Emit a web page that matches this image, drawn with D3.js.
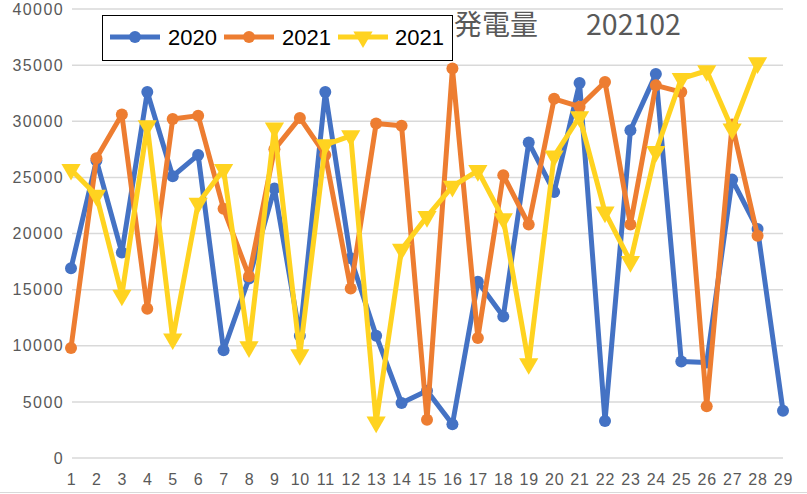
<!DOCTYPE html>
<html>
<head>
<meta charset="utf-8">
<script src="https://cdn.jsdelivr.net/npm/d3@7"></script>
<style>
  html, body { margin: 0; padding: 0; background: #fff; }
  svg { display: block; }
</style>
</head>
<body>
<svg id="chart" width="807" height="494"></svg>
<script>
const days = d3.range(1, 30);
const yTicks = [0, 5000, 10000, 15000, 20000, 25000, 30000, 35000, 40000];
const series2020 = [16900, 26500, 18300, 32600, 25100, 27000, 9600, 16000, 24000, 10900,
  32600, 17800, 10900, 4900, 6000, 3000, 15700, 12600, 28100, 23700,
  33400, 3300, 29200, 34200, 8600, 8500, 24800, 20400, 4200];
const series2021 = [9800, 26700, 30600, 13300, 30200, 30500, 22200, 16200, 27500, 30300,
  27000, 15100, 29800, 29600, 3400, 34700, 10700, 25200, 20800, 32000,
  31300, 33500, 20800, 33200, 32600, 4600, 29700, 19800];
const series2021b = [25700, 23400, 14500, 29600, 10600, 22700, 25700, 9900, 29400, 9200,
  27900, 28700, 3200, 18600, 21500, 24200, 25600, 21300, 8400, 26900,
  30400, 21900, 17500, 27300, 33800, 34500, 29300, 35200];
const seriesNames = ["2020", "2021", "2021"];
const colors = ["#4472C4", "#ED7D31", "#FFD320"];
const markers = ["circle", "circle", "triangle"];
const titleParts = ["発電量", "202102"];

const svg = d3.select("#chart");
const x = d3.scalePoint().domain(days).range([71, 783]);
const y = d3.scaleLinear().domain([0, 40000]).range([458, 9]);

// gridlines
svg.append("g").selectAll("line").data(yTicks).join("line")
  .attr("x1", 72).attr("x2", 783)
  .attr("y1", d => y(d)).attr("y2", d => y(d))
  .attr("stroke", "#d9d9d9").attr("stroke-width", 1.5);

// bottom border
svg.append("line").attr("x1", 0).attr("x2", 807).attr("y1", 492.5).attr("y2", 492.5)
  .attr("stroke", "#d9d9d9").attr("stroke-width", 1);

// y axis labels
const yAxis = d3.axisLeft(y).tickValues(yTicks).tickSize(0).tickPadding(0).tickFormat(d3.format("d"));
const gy = svg.append("g").attr("transform", "translate(64,0)").call(yAxis);
gy.select(".domain").remove();
gy.selectAll("text").attr("font-family", "Liberation Sans, Arial, sans-serif")
  .attr("font-size", 16).attr("fill", "#595959").attr("letter-spacing", "1.4px");

// x axis labels
const xAxis = d3.axisBottom(x).tickSize(0).tickPadding(0);
const gx = svg.append("g").attr("transform", "translate(0,474)").call(xAxis);
gx.select(".domain").remove();
gx.selectAll("text").attr("font-family", "Liberation Sans, Arial, sans-serif")
  .attr("font-size", 16).attr("fill", "#595959").attr("letter-spacing", "0.8px");

// series
const allSeries = [series2020, series2021, series2021b];
const line = d3.line().x((d, i) => x(days[i])).y(d => y(d));
const tri = d3.symbol().type(d3.symbolTriangle).size(160);

allSeries.forEach((data, si) => {
  const g = svg.append("g");
  g.append("path").datum(data).attr("d", line)
    .attr("fill", "none").attr("stroke", colors[si]).attr("stroke-width", 5)
    .attr("stroke-linejoin", "round");
  if (markers[si] === "circle") {
    g.selectAll("circle").data(data).join("circle")
      .attr("cx", (d, i) => x(days[i])).attr("cy", d => y(d)).attr("r", 6)
      .attr("fill", colors[si]);
  } else {
    g.selectAll("path.m").data(data).join("path").attr("class", "m")
      .attr("d", tri)
      .attr("transform", (d, i) => `translate(${x(days[i])},${y(d)}) rotate(180)`)
      .attr("fill", colors[si]);
  }
});

// title
const title = svg.append("text").attr("y", 35)
  .attr("font-family", "Noto Sans CJK JP, sans-serif").attr("font-size", 28)
  .attr("fill", "#595959");
title.append("tspan").attr("x", 454).text(titleParts[0]);
title.append("tspan").attr("x", 586).attr("font-size", 28.5).text(titleParts[1]);

// legend
const lg = svg.append("g");
lg.append("rect").attr("x", 102.5).attr("y", 15.5).attr("width", 350).attr("height", 45)
  .attr("fill", "#fff").attr("stroke", "#000").attr("stroke-width", 1);
const legendX = [110, 224, 338];
const legendTextX = [168, 282, 395];
seriesNames.forEach((name, i) => {
  lg.append("line").attr("x1", legendX[i]).attr("x2", legendX[i] + 50)
    .attr("y1", 37).attr("y2", 37).attr("stroke", colors[i]).attr("stroke-width", 5);
  if (markers[i] === "circle") {
    lg.append("circle").attr("cx", legendX[i] + 25).attr("cy", 37).attr("r", 6).attr("fill", colors[i]);
  } else {
    lg.append("path").attr("d", tri)
      .attr("transform", `translate(${legendX[i] + 25},37) rotate(180)`).attr("fill", colors[i]);
  }
  lg.append("text").attr("x", legendTextX[i]).attr("y", 45)
    .attr("font-family", "Liberation Sans, Arial, sans-serif").attr("font-size", 22)
    .attr("fill", "#000").text(name);
});
</script>
</body>
</html>
